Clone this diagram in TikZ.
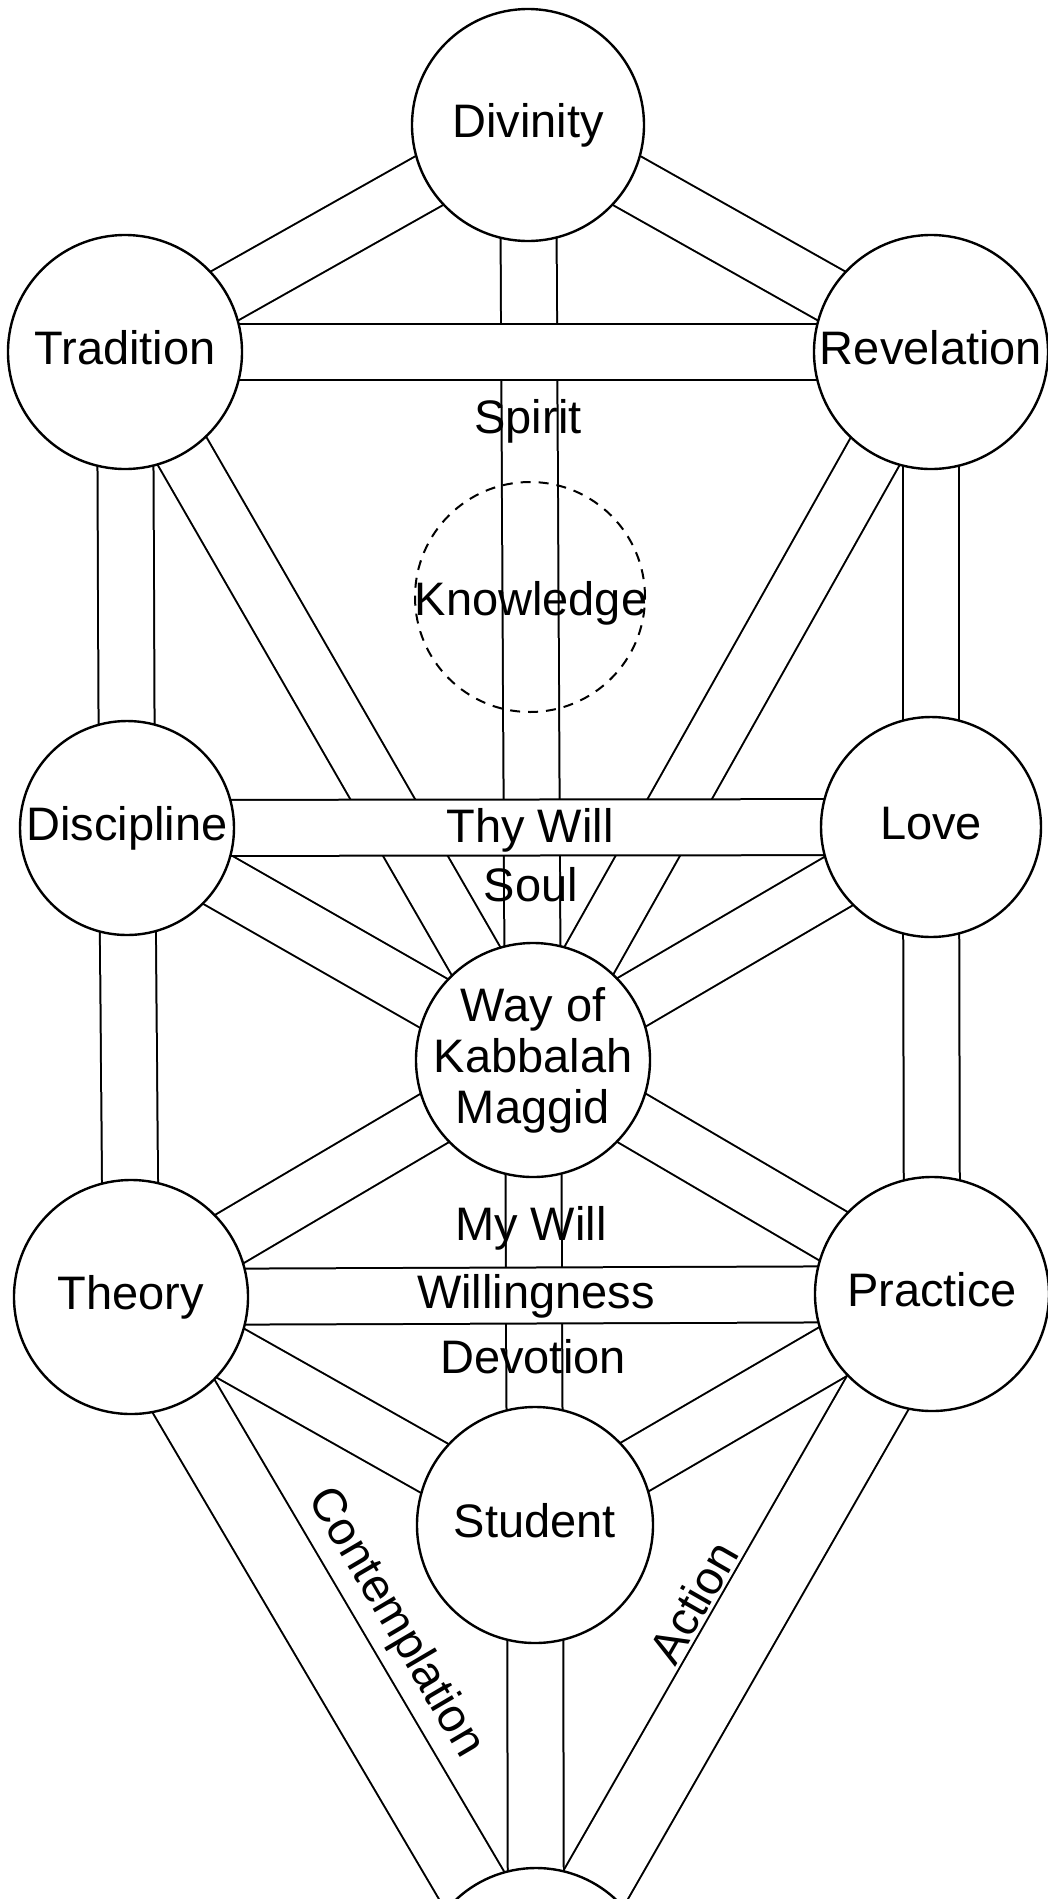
\documentclass[tikz,border=0pt]{standalone}
\usepackage{fontspec}
\setmainfont{Liberation Sans}
\usetikzlibrary{backgrounds,calc}
\begin{document}
\begin{tikzpicture}[x=1pt,y=-1pt,
  sef/.style={circle,draw=black,line width=2.4pt,fill=white,inner sep=0pt,
    font=\fontsize{47}{51}\selectfont},
  onel/.style={text height=35pt,text depth=9.5pt},
  band/.style={draw=black,line width=2pt,double=white,double distance=54pt,line cap=butt},
  wideband/.style={band,double distance=68pt},
  txt/.style={font=\fontsize{47}{51}\selectfont,inner sep=0pt},
  lbl/.style={txt,anchor=base}
]
\useasboundingbox (0,0) rectangle (1048,1899);
% spheres
\node[sef,onel,minimum size=232pt] (div) at (528,125) {Divinity};
\node[sef,onel,minimum size=234pt] (trad) at (125,352) {Tradition};
\node[sef,onel,minimum size=234pt] (rev) at (931,352) {Revelation};
\node[sef,onel,minimum size=214pt] (disc) at (127,828) {Discipline};
\node[sef,onel,minimum size=220pt] (love) at (931,827) {Love};
\node[sef,minimum size=234pt] (way) at (533,1060) {};
\node[txt,align=center] (wayt) at (way.center) {Way of\\Kabbalah\\Maggid};
\node[sef,onel,minimum size=234pt] (theory) at (131,1297) {Theory};
\node[sef,onel,minimum size=234pt] (prac) at (932,1294) {Practice};
\node[sef,onel,minimum size=236pt] (stud) at (535,1525) {Student};
\node[sef,minimum size=234pt] (bot) at (536,1985) {};
% hidden sphere
\node[circle,draw=black,line width=2pt,dash pattern=on 10pt off 8pt,inner sep=0pt,
  minimum size=230pt] (know) at (530,597) {};
\node[lbl] (knowt) at (531,615) {Knowledge};
% paths
\begin{pgfonlayer}{background}
\draw[band] (div.center) -- (way.center);
\draw[band] (div.center) -- (trad.center);
\draw[band] (div.center) -- (rev.center);
\draw[band] (trad.center) -- (disc.center);
\draw[band] (rev.center) -- (love.center);
\draw[band] (trad.center) -- (way.center);
\draw[band] (rev.center) -- (way.center);
\draw[band] (disc.center) -- (way.center);
\draw[band] (love.center) -- (way.center);
\draw[band] (disc.center) -- (theory.center);
\draw[band] (love.center) -- (prac.center);
\draw[band] (way.center) -- (theory.center);
\draw[band] (way.center) -- (prac.center);
\draw[band] (way.center) -- (stud.center);
\draw[band] (theory.center) -- (stud.center);
\draw[band] (prac.center) -- (stud.center);
\draw[wideband] ($(theory.center)+(-4.3,2.5)$) -- ($(bot.center)+(-4.3,2.5)$);
\draw[wideband] ($(prac.center)+(1.7,1)$) -- ($(bot.center)+(1.7,1)$);
\draw[band] (stud.center) -- (bot.center);
\draw[band] (trad.center) -- (rev.center);
\draw[band] (disc.center) -- (love.center);
\draw[band] (theory.center) -- (prac.center);
\end{pgfonlayer}
% labels
\node[lbl] (spirit) at (528,433) {Spirit};
\node[lbl] (thywill) at (530,842) {Thy Will};
\node[lbl] (soul) at (531,901) {Soul};
\node[lbl] (mywill) at (531,1240) {My Will};
\node[lbl] (willing) at (536,1308) {Willingness};
\node[lbl] (devot) at (533,1373) {Devotion};
\node[txt,rotate=-59.5] (contl) at (395,1623) {Contemplation};
\node[txt,rotate=60.2] (actl) at (693,1602) {Action};
\end{tikzpicture}
\end{document}
